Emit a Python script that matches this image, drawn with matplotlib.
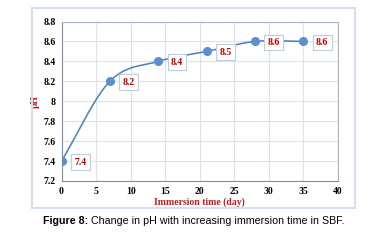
import numpy as np
import matplotlib.pyplot as plt
from matplotlib.patches import Rectangle

# data
days = [0, 7, 14, 21, 28, 35]
ph = [7.4, 8.2, 8.4, 8.5, 8.6, 8.6]
x_ticks = [0, 5, 10, 15, 20, 25, 30, 35, 40]
y_ticks = [7.2, 7.4, 7.6, 7.8, 8.0, 8.2, 8.4, 8.6, 8.8]


def smooth(xs, ys, n=30):
    # Catmull-Rom style curve through the points (like Excel's smoothed line)
    xs = np.asarray(xs, float)
    ys = np.asarray(ys, float)
    px = np.concatenate([[2 * xs[0] - xs[1]], xs, [2 * xs[-1] - xs[-2]]])
    py = np.concatenate([[2 * ys[0] - ys[1]], ys, [2 * ys[-1] - ys[-2]]])
    out_x, out_y = [], []
    for i in range(1, len(px) - 2):
        t = np.linspace(0, 1, n)
        for arr, out in ((px, out_x), (py, out_y)):
            p0, p1, p2, p3 = arr[i - 1], arr[i], arr[i + 1], arr[i + 2]
            out.extend(0.5 * ((2 * p1) + (-p0 + p2) * t
                              + (2 * p0 - 5 * p1 + 4 * p2 - p3) * t ** 2
                              + (-p0 + 3 * p1 - 3 * p2 + p3) * t ** 3))
    return out_x, out_y


plt.rcParams['font.family'] = ['Liberation Serif', 'DejaVu Serif']

fig = plt.figure(figsize=(3.73, 2.4), dpi=100)
ax = fig.add_axes([61.5 / 373, 1 - 181 / 240, (338 - 61.5) / 373, (181 - 21.5) / 240])

# light outer chart frame
fig.patches.append(Rectangle((31.5 / 373, 1 - 208 / 240), (355 - 31.5) / 373,
                             (208 - 8) / 240, transform=fig.transFigure,
                             fill=False, edgecolor='#D5E0EE', linewidth=1.5))

sx, sy = smooth(days, ph)
ax.plot(sx, sy, color='#4A7EC0', linewidth=1.1, zorder=3)
ax.plot(days, ph, 'o', color='#5B8FD0', markersize=5.5, zorder=4)

for d, v in zip(days, ph):
    ax.annotate(f'{v:g}', (d, v), xytext=(13.5, -0.7), textcoords='offset points',
                ha='center', va='center', fontsize=7, fontweight='bold', color='#C00000',
                bbox=dict(boxstyle='square,pad=0.35', fc='white', ec='#BFCCDD', lw=0.8),
                zorder=5)

ax.set_xlim(0, 40)
ax.set_ylim(7.2, 8.8)
ax.set_xticks(x_ticks)
ax.set_yticks(y_ticks)
ax.set_yticklabels([f'{v:g}' for v in y_ticks])
ax.grid(True, color='#D9E2EE', linewidth=0.8)
ax.set_axisbelow(True)
ax.tick_params(length=0, labelsize=7, pad=4)
for lbl in ax.get_xticklabels() + ax.get_yticklabels():
    lbl.set_fontweight('bold')
for s in ['top', 'right']:
    ax.spines[s].set_color('#A6B3C3')
    ax.spines[s].set_linewidth(0.8)
for s in ['left', 'bottom']:
    ax.spines[s].set_color('#7F8FA6')
    ax.spines[s].set_linewidth(0.8)

ax.set_xlabel('Immersion time (day)', fontsize=7, fontweight='bold', color='#B22222', labelpad=1)
ax.set_ylabel('pH', fontsize=7, fontweight='bold', color='#B22222', labelpad=3)

# caption: bold "Figure 8:" followed by plain text, starting at x ~ 43 px
cap_y = 1 - 221 / 240
t1 = fig.text(43 / 373, cap_y, 'Figure 8:', fontsize=7.7, fontweight='bold',
              family='Liberation Sans', ha='left', va='center')
fig.canvas.draw()
bb = t1.get_window_extent(fig.canvas.get_renderer())
fig.text(bb.x1 / fig.bbox.width, cap_y, ' Change in pH with increasing immersion time in SBF.',
         fontsize=7.7, family='Liberation Sans', ha='left', va='center')

fig.savefig('out.png', dpi=100)
